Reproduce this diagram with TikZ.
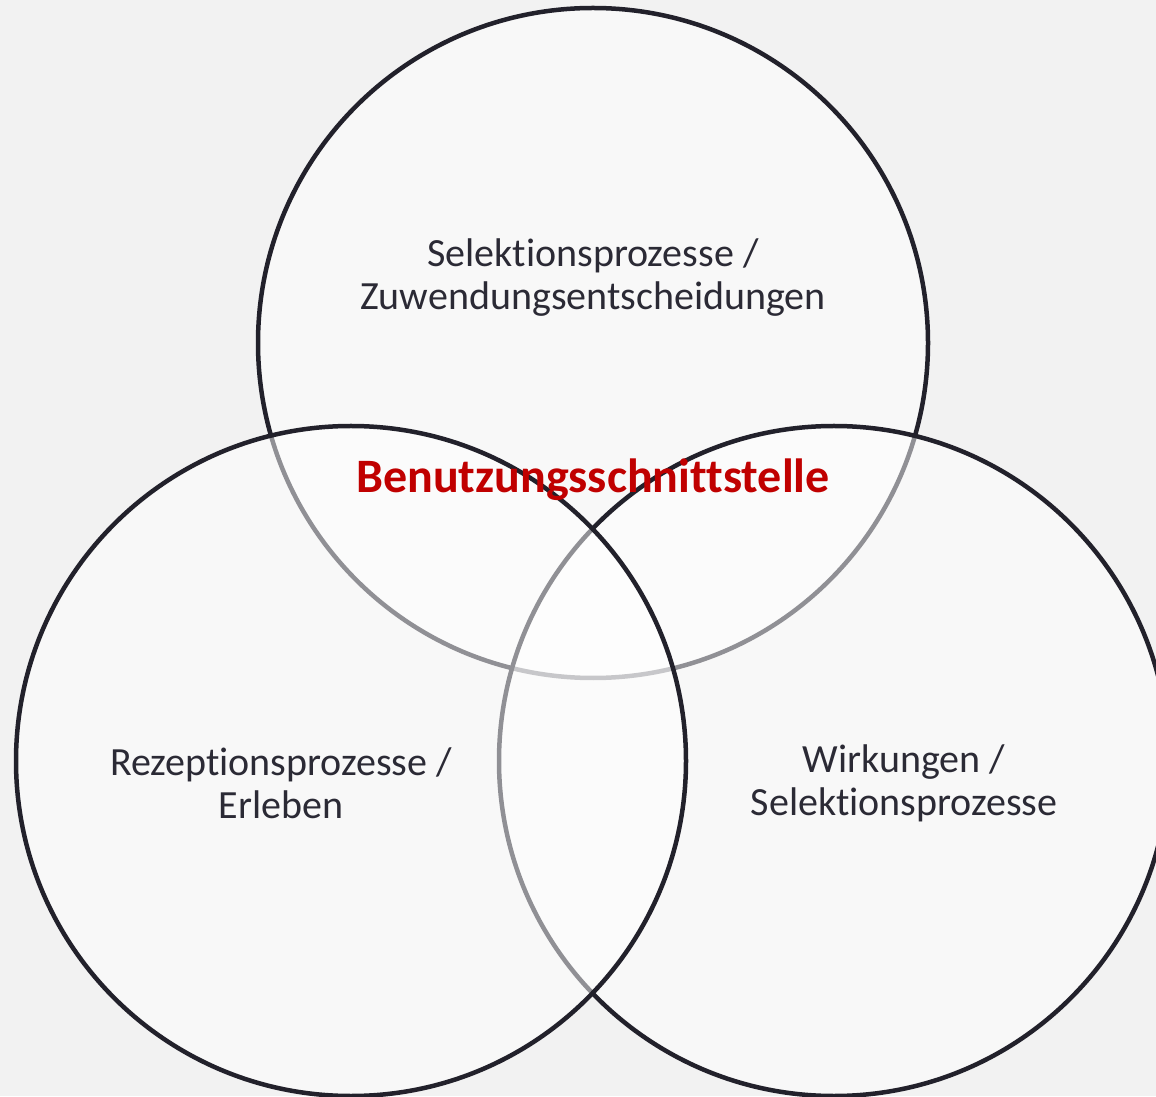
\documentclass[tikz,border=0pt]{standalone}
\usepackage{fontspec}
\setmainfont{Carlito}[RawFeature=-liga]
\definecolor{bg}{HTML}{F2F2F2}
\definecolor{ink}{HTML}{22212B}
\definecolor{txt}{HTML}{2B2A35}
\definecolor{accent}{HTML}{C00000}
\tikzset{
  venn/.style={draw=ink, line width=4.5pt, fill=white, fill opacity=0.5, draw opacity=1},
  lbl/.style={text=txt, font=\fontsize{40pt}{43pt}\selectfont, align=center, inner sep=0pt},
}
\begin{document}
\begin{tikzpicture}[x=1pt,y=1pt]
\useasboundingbox (0,0) rectangle (1156,1096);
\clip (0,0) rectangle (1156,1096);
\fill[bg] (0,0) rectangle (1156,1096);
\coordinate (ctop) at (593,753);
\coordinate (cright) at (834,335);
\coordinate (cleft) at (351,335);
\draw[venn] (ctop) circle[radius=335];
\draw[venn] (cright) circle[radius=335];
\draw[venn] (cleft) circle[radius=335];
\node[lbl] (ttop) at (593,818) {Selektionsprozesse /\\Zuwendungsentscheidungen};
\node[lbl] (tleft) at (281,313) {Rezeptionsprozesse /\\Erleben};
\node[lbl] (tright) at (904,313) {Wirkungen /\\Selektionsprozesse};
\node[text=accent, font=\bfseries\fontsize{48pt}{43pt}\selectfont, inner sep=0pt] (tmid) at (593,616) {Benutzungsschnittstelle};
\end{tikzpicture}
\end{document}
